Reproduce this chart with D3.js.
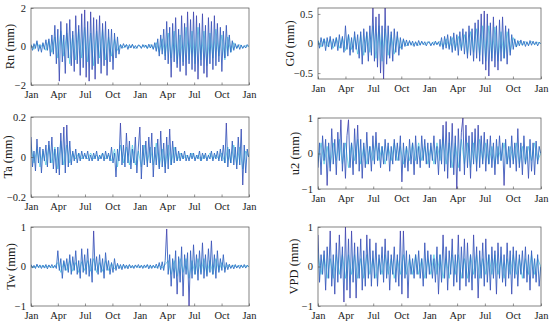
<!DOCTYPE html>
<html>
<head>
<meta charset="utf-8">
<script src="https://cdn.jsdelivr.net/npm/d3@7"></script>
<style>
    body { margin: 0; background: #fff; }
    svg { display: block; }
</style>
</head>
<body>
<div id="chart"></div>
<script>
// Sampling: main series every 5 days, second series every 10 days, over two years
const startDate = new Date(2015, 0, 1);
const endDate = new Date(2017, 0, 1);
const stepDays = 5;
const stepDays2 = 10;

// Main series values (mm)
const rnValues = [
    0.1, -0.2, 0.15, -0.1, 0.3, -0.25, 0.1, -0.3, 0.2, -0.15, 0.35, -0.2, 0.4, -0.5, 0.6, -0.4, 1.1, -0.9,
    0.9, -1.8, 1.3, -0.8, 0.6, -1.4, 1.2, -0.6, 1.4, -1.0, 0.8, -1.3, 1.6, -0.9, 1.1, -1.5, 1.7, -1.1,
    1.9, -1.6, 1.3, -1.8, 1.8, -1.2, 1.5, -1.7, 1.4, -0.9, 1.6, -1.4, 1.2, -1.0, 1.3, -1.5, 0.9, -0.8,
    0.9, -1.2, 0.7, -0.6, 0.5, -0.4,
    0.1, -0.1, 0.15, -0.05, 0.1, -0.15, 0.1, -0.08, 0.12, -0.1, 0.05, -0.1, 0.08,
    0.05, -0.1, 0.1, -0.05, 0.08, -0.1, 0.12, -0.08, 0.1, -0.15, 0.2, -0.25,
    0.4, -0.5, 0.6, -0.4, 0.9, -0.7,
    1.3, -0.9, 1.0, -1.6, 1.2, -0.8, 1.5, -1.1, 0.9, -1.3, 1.6, -1.0, 1.2, -1.5, 1.8, -0.9, 1.4, -1.2,
    1.8, -1.3, 1.6, -1.7, 1.2, -1.0, 1.7, -1.4, 1.1, -1.6, 1.5, -0.9, 1.3, -1.2, 1.6, -1.0, 1.2, -0.8,
    1.0, -1.3, 0.8, -0.6, 1.1, -0.5, 0.6, -0.3, 0.3,
    -0.2, 0.15, -0.1, 0.1, -0.15, 0.08, -0.1, 0.05, -0.08, 0.1, 0.0
];

const g0Values = [
    0.05, -0.08, 0.1, -0.05, 0.08, -0.12, 0.1, -0.06, 0.12, -0.1, 0.08, -0.05, 0.1, -0.12, 0.15, -0.08, 0.12, -0.15,
    0.3, -0.1, 0.15, -0.2, 0.1, -0.15, 0.2, -0.1, 0.15, -0.25, 0.2, -0.35, 0.25, -0.15, 0.2, -0.3, 0.3, -0.2,
    0.6, -0.3, 0.45, -0.4, 0.5, -0.5, 0.3, -0.6, 0.6, -0.35, 0.3, -0.25, 0.2, -0.3, 0.25, -0.15, 0.2, -0.2,
    0.1, -0.1, 0.08, -0.05, 0.06, -0.04, 0.05, -0.03, 0.04, -0.05, 0.03, -0.04, 0.05, -0.03, 0.04, -0.02, 0.03, -0.04, 0.02,
    0.03, -0.04, 0.02, -0.03, 0.04, -0.02, 0.03, -0.05, 0.1, -0.1, 0.12, -0.08, 0.15, -0.1, 0.12, -0.15, 0.18, -0.12,
    0.15, -0.2, 0.2, -0.12, 0.25, -0.18, 0.2, -0.25, 0.3, -0.2, 0.25, -0.3, 0.35, -0.25, 0.4, -0.3, 0.5, -0.35,
    0.55, -0.45, 0.5, -0.55, 0.35, -0.3, 0.45, -0.4, 0.3, -0.45, 0.4, -0.3, 0.45, -0.25, 0.3, -0.35, 0.25, -0.2,
    0.15, -0.1, 0.08, -0.06, 0.05, -0.04, 0.06, -0.03, 0.04, -0.05, 0.03, -0.04, 0.05, -0.03, 0.04, -0.02, 0.03, -0.04, 0.02, 0.0
];

const taValues = [
    0.1, -0.05, 0.03, -0.07, 0.09, -0.03, 0.05, -0.08, 0.04, -0.02, 0.06, -0.05, 0.08, -0.03, 0.1, -0.06, 0.04, -0.08,
    0.05, -0.09, 0.12, -0.04, 0.15, -0.08, 0.16, -0.05, 0.08, -0.04, 0.03, -0.02, 0.04, -0.03, 0.02, -0.02, 0.03, -0.01,
    0.02, -0.01, 0.03, -0.02, 0.01, -0.02, 0.02, -0.01, 0.03, -0.02, 0.01, -0.01, 0.02, -0.02, 0.03, -0.01, 0.02, -0.02,
    0.05, -0.03, 0.02, -0.1, 0.04, -0.02, 0.17, -0.04, 0.06, -0.05, 0.12, -0.03, 0.08, -0.06, 0.04, -0.03, 0.1, -0.08, 0.05,
    0.15, -0.11, 0.06, -0.04, 0.08, -0.05, 0.1, -0.03, 0.12, -0.1, 0.05, -0.04, 0.09, -0.06, 0.13, -0.05, 0.07, -0.08,
    0.1, -0.06, 0.14, -0.04, 0.08, -0.03, 0.05, -0.02, 0.03, -0.02, 0.02, -0.01, 0.03, -0.02, 0.01, -0.02, 0.02, -0.01,
    0.02, -0.02, 0.01, -0.01, 0.03, -0.02, 0.02, -0.01, 0.02, -0.02, 0.01, -0.01, 0.03, -0.02, 0.02, -0.01, 0.03, -0.02,
    0.04, -0.02, 0.06, -0.03, 0.17, -0.05, 0.04, -0.03, 0.08, -0.04, 0.05, -0.06, 0.1, -0.04, 0.14, -0.14, 0.06, -0.08, 0.04, 0.0
];

const u2Values = [
    -0.4, 0.3, -0.6, 0.5, -0.2, 0.4, -0.9, 0.3, -0.5, 0.7, -0.3, 0.4, -0.6, 0.6, -0.2, 0.95, -0.5, 0.3,
    -0.7, 0.5, 0.95, -0.4, 0.3, -0.6, 0.7, -0.3, 0.8, -0.5, 0.4, -0.7, 0.3, -0.4, 0.6, -0.3, 0.2, -0.5,
    0.5, -0.3, 0.6, -0.2, 0.3, -0.4, 0.2, -0.3, 0.4, -0.2, 0.3, -0.5, 0.2, -0.3, 0.4, -0.2, 0.3, -0.2,
    0.5, -0.8, 0.3, -0.4, 0.2, -0.5, 0.4, -0.3, 0.3, -0.6, 0.5, -0.3, 0.2, -0.4, 0.5, -0.2, 0.4, -0.3, 0.3,
    -0.4, 0.3, -0.2, 0.5, -0.3, 0.2, -0.6, 0.4, -0.3, 0.8, -0.5, 0.9, -0.7, 0.6, -0.4, 0.85, -0.6, 0.5,
    -1.0, 0.7, -0.5, 0.6, 1.0, -0.6, 0.8, -0.4, 0.5, -0.7, 0.6, -0.3, 0.7, -0.5, 0.8, -0.4, 0.5, -0.3,
    0.6, -0.5, 0.4, -0.3, 0.5, -0.4, 0.3, -0.6, 0.4, -0.3, 0.5, -0.2, 0.3, -0.9, 0.4, -0.3, 0.2, -0.4,
    0.5, -0.3, 0.3, -0.5, 0.7, -0.4, 0.3, -0.6, 0.5, -0.3, 0.2, -0.7, 0.4, -0.5, 0.3, -0.6, 0.35, -0.3, 0.2, 0.0
];

const twValues = [
    0.05, -0.04, 0.03, -0.05, 0.06, -0.03, 0.04, -0.05, 0.03, -0.04, 0.05, -0.06, 0.04, -0.03, 0.05, -0.04, 0.03, -0.05,
    0.4, -0.1, 0.2, -0.3, 0.15, -0.1, 0.2, -0.15, 0.3, -0.2, 0.25, -0.1, 0.4, -0.2, 0.15, -0.3, 0.45, -0.15,
    0.3, -0.2, 0.45, -0.25, 0.2, -0.4, 0.9, -0.1, 0.25, -0.2, 0.3, -0.15, 0.2, -0.3, 0.35, -0.1, 0.15, -0.2,
    0.1, -0.15, 0.2, -0.1, 0.08, -0.06, 0.05, -0.08, 0.06, -0.05, 0.04, -0.06, 0.05, -0.04, 0.03, -0.05, 0.04, -0.03, 0.05,
    -0.04, 0.03, -0.05, 0.04, -0.03, 0.05, -0.06, 0.04, -0.05, 0.03, -0.04, 0.06, -0.05, 0.1, -0.08, 0.12, -0.1, 0.15,
    0.95, -0.2, 0.3, -0.5, 0.2, -0.3, 0.4, -0.7, 0.25, -0.4, 0.5, -0.75, 0.3, -0.2, 0.35, -1.0, 0.4, -0.3,
    0.55, -0.2, 0.3, -0.35, 0.4, -0.2, 0.6, -0.3, 0.3, -0.25, 0.45, -0.15, 0.65, -0.2, 0.3, -0.3, 0.4, -0.15,
    0.2, -0.1, 0.3, -0.15, 0.1, -0.08, 0.06, -0.05, 0.04, -0.06, 0.05, -0.04, 0.03, -0.05, 0.04, -0.03, 0.05, -0.04, 0.03, 0.0
];

const vpdValues = [
    0.8, -0.4, 0.3, -0.2, 0.4, -0.6, 0.5, -0.3, 0.9, -0.5, 0.3, -0.7, 0.6, -0.4, 0.8, -0.3, 0.5, -0.9,
    1.0, -0.6, 0.7, -0.8, 0.9, -0.4, 0.6, -0.8, 0.5, -0.3, 0.7, -0.6, 0.4, -0.5, 0.8, -0.3, 0.7, -0.5,
    0.4, -0.3, 0.6, -0.5, 0.3, -0.2, 0.5, -0.4, 0.7, -0.3, 0.4, -0.6, 0.3, -0.2, 0.5, -0.4, 0.3, -0.5,
    0.9, -0.7, 0.9, -0.3, 0.4, -0.8, 0.3, -0.2, 0.2, -0.3, 0.3, -0.2, 0.4, -0.3, 0.2, -0.5, 0.6, -0.3, 0.4,
    -0.2, 0.3, -0.3, 0.2, -0.4, 0.5, -0.7, 0.3, -0.4, 0.8, -0.3, 0.5, -0.6, 0.4, -0.2, 0.7, -0.5, 0.3,
    -0.4, 0.8, -0.6, 0.5, -0.3, 0.7, -0.5, 0.6, -0.4, 0.3, -0.6, 0.8, -0.3, 0.5, -0.8, 0.4, -0.3, 0.6,
    -0.5, 0.7, -0.4, 0.3, -0.6, 0.5, -0.3, 0.4, -0.7, 0.6, -0.3, 0.5, -0.4, 0.3, -0.5, 0.6, -0.3, 0.4,
    -0.7, 0.5, -0.3, 0.4, -0.5, 0.3, -0.2, 0.4, -0.3, 0.5, -0.4, 0.3, -0.6, 0.4, -0.3, 0.2, -0.4, 0.3, -0.5, 0.0
];

// Second (cyan) series, every 10 days
const rnValues2 = [
    0.1, -0.15, 0.2, -0.1, 0.15, -0.2, 0.3, -0.3, 0.5,
    -0.6, 0.8, -0.5, 0.7, -0.9, 0.6, -0.7, 0.9, -0.6,
    1.0, -0.8, 0.7, -1.0, 0.8, -0.6, 0.9, -0.7, 0.5,
    -0.5, 0.4, -0.2, 0.1, -0.08, 0.1, -0.05, 0.08, -0.1, 0.05,
    -0.05, 0.08, -0.1, 0.1, -0.12, 0.2, -0.3, 0.4, -0.5,
    0.7, -0.6, 0.8, -0.9, 0.6, -0.8, 1.0, -0.7, 0.8,
    -0.9, 1.0, -0.7, 0.8, -1.0, 0.7, -0.6, 0.9, -0.5,
    0.6, -0.7, 0.5, -0.3, 0.2, -0.1, 0.1, -0.08, 0.05, 0.0
];

const g0Values2 = [
    0.05, -0.06, 0.08, -0.05, 0.07, -0.08, 0.1, -0.08, 0.1,
    -0.12, 0.15, -0.1, 0.12, -0.18, 0.15, -0.2, 0.18, -0.15,
    0.3, -0.25, 0.3, -0.3, 0.25, -0.2, 0.15, -0.18, 0.12,
    -0.08, 0.06, -0.04, 0.03, -0.03, 0.02, -0.03, 0.02, -0.02, 0.03,
    -0.02, 0.03, -0.02, 0.04, -0.06, 0.08, -0.07, 0.1, -0.1,
    0.12, -0.1, 0.15, -0.18, 0.2, -0.15, 0.25, -0.2, 0.3,
    -0.3, 0.3, -0.25, 0.28, -0.3, 0.2, -0.25, 0.2, -0.15,
    0.1, -0.06, 0.04, -0.03, 0.03, -0.02, 0.03, -0.02, 0.02, 0.0
];

const taValues2 = [
    0.05, -0.03, 0.04, -0.05, 0.03, -0.04, 0.06, -0.03, 0.05,
    -0.06, 0.08, -0.04, 0.06, -0.03, 0.02, -0.01, 0.02, -0.01,
    0.01, -0.01, 0.02, -0.01, 0.01, -0.01, 0.02, -0.01, 0.01,
    -0.02, 0.04, -0.05, 0.06, -0.03, 0.05, -0.04, 0.06, -0.04, 0.03,
    -0.05, 0.06, -0.03, 0.05, -0.04, 0.07, -0.05, 0.04, -0.05,
    0.06, -0.04, 0.05, -0.02, 0.02, -0.01, 0.01, -0.01, 0.02,
    -0.01, 0.01, -0.02, 0.01, -0.01, 0.02, -0.01, 0.01, -0.01,
    0.02, -0.03, 0.05, -0.03, 0.06, -0.04, 0.05, -0.06, 0.03, 0.0
];

const u2Values2 = [
    -0.2, 0.3, -0.3, 0.2, -0.4, 0.3, -0.2, 0.4, -0.3,
    0.3, -0.4, 0.3, -0.2, 0.4, -0.3, 0.2, -0.3, 0.2,
    -0.2, 0.3, -0.2, 0.2, -0.3, 0.2, -0.2, 0.3, -0.2,
    0.2, -0.3, 0.2, -0.2, 0.3, -0.2, 0.3, -0.2, 0.2, -0.3,
    0.2, -0.3, 0.3, -0.2, 0.4, -0.3, 0.3, -0.4, 0.3,
    -0.4, 0.4, -0.3, 0.3, -0.4, 0.3, -0.3, 0.4, -0.2,
    0.3, -0.3, 0.2, -0.3, 0.2, -0.2, 0.3, -0.3, 0.2,
    -0.2, 0.3, -0.3, 0.2, -0.3, 0.2, -0.2, 0.3, -0.2, 0.0
];

const twValues2 = [
    0.02, -0.03, 0.02, -0.02, 0.03, -0.02, 0.02, -0.03, 0.02,
    0.1, -0.15, 0.12, -0.1, 0.15, -0.12, 0.1, -0.15, 0.12,
    -0.1, 0.15, -0.12, 0.2, -0.15, 0.1, -0.12, 0.15, -0.1,
    0.08, -0.06, 0.04, -0.03, 0.03, -0.02, 0.03, -0.02, 0.02, -0.02,
    0.02, -0.02, 0.03, -0.02, 0.02, -0.03, 0.03, -0.04, 0.05,
    0.15, -0.2, 0.15, -0.25, 0.2, -0.15, 0.2, -0.3, 0.15,
    -0.2, 0.2, -0.15, 0.2, -0.2, 0.15, -0.2, 0.2, -0.1,
    0.1, -0.06, 0.04, -0.03, 0.03, -0.02, 0.03, -0.02, 0.02, 0.0
];

const vpdValues2 = [
    0.3, -0.2, 0.3, -0.3, 0.2, -0.3, 0.3, -0.2, 0.3,
    -0.3, 0.3, -0.2, 0.3, -0.3, 0.2, -0.3, 0.3, -0.2,
    0.2, -0.3, 0.2, -0.2, 0.3, -0.2, 0.2, -0.3, 0.2,
    -0.2, 0.3, -0.2, 0.2, -0.2, 0.3, -0.2, 0.2, -0.3, 0.2,
    -0.2, 0.3, -0.2, 0.3, -0.3, 0.2, -0.3, 0.3, -0.2,
    0.3, -0.3, 0.2, -0.3, 0.3, -0.2, 0.3, -0.3, 0.2,
    -0.2, 0.3, -0.2, 0.3, -0.2, 0.2, -0.3, 0.2, -0.2,
    0.3, -0.2, 0.2, -0.3, 0.2, -0.2, 0.3, -0.2, 0.2, 0.0
];

// Axis labels and y ticks per panel
const panelLabels = ['Rn (mm)', 'Ta (mm)', 'Tw (mm)', 'G0 (mm)', 'u2 (mm)', 'VPD (mm)'];
const panelDomains = [[-2, 2], [-0.2, 0.2], [-1, 1], [-0.6, 0.6], [-1, 1], [-1, 1]];
const panelTicks = [[-2, 0, 2], [-0.2, 0, 0.2], [-1, 0, 1], [-0.5, 0, 0.5], [-1, 0, 1], [-1, 0, 1]];
const panelSeries = [rnValues, taValues, twValues, g0Values, u2Values, vpdValues];
const panelSeries2 = [rnValues2, taValues2, twValues2, g0Values2, u2Values2, vpdValues2];

// Layout of each panel box (pixels) and y-label position
const layout = [
    { x0: 31, x1: 249, y0: 8, y1: 85, labelX: 10 },
    { x0: 31, x1: 249, y0: 117, y1: 197, labelX: 8 },
    { x0: 31, x1: 249, y0: 227, y1: 306, labelX: 11 },
    { x0: 318, x1: 541, y0: 8, y1: 79, labelX: 290 },
    { x0: 318, x1: 541, y0: 118, y1: 189, labelX: 295 },
    { x0: 318, x1: 541, y0: 227, y1: 306, labelX: 294 }
];

const config = {
    width: 550,
    height: 323,
    fontFamily: '"Liberation Serif", "Times New Roman", serif',
    tickFontSize: 10.5,
    labelFontSize: 12.5,
    axisColor: '#4d4d4d',
    tickLength: 2.5,
    lineWidth: 0.9,
    cyan: '#3cc6de'
};

const svg = d3.select('#chart')
    .append('svg')
    .attr('width', config.width)
    .attr('height', config.height);

const defs = svg.append('defs');

const xTicks = d3.timeMonth.every(3).range(startDate, d3.timeDay.offset(endDate, 1));
const monthFormat = d3.timeFormat('%b');

panelSeries.forEach((values, i) => {
    const box = layout[i];
    const values2 = panelSeries2[i];

    const x = d3.scaleTime()
        .domain([startDate, endDate])
        .range([box.x0, box.x1]);

    const y = d3.scaleLinear()
        .domain(panelDomains[i])
        .range([box.y1, box.y0]);

    // Vertical colour blend: blue near zero, indigo at the spikes
    const gradId = `grad${i}`;
    const grad = defs.append('linearGradient')
        .attr('id', gradId)
        .attr('gradientUnits', 'userSpaceOnUse')
        .attr('x1', 0).attr('x2', 0)
        .attr('y1', box.y0).attr('y2', box.y1);
    [[0, '#4d45ae'], [0.3, '#3a5cbe'], [0.5, '#2e72c6'],
     [0.7, '#3a5cbe'], [1, '#4d45ae']].forEach(([o, c]) => {
        grad.append('stop').attr('offset', o).attr('stop-color', c);
    });

    const clipId = `clip${i}`;
    defs.append('clipPath').attr('id', clipId)
        .append('rect')
        .attr('x', box.x0).attr('y', box.y0)
        .attr('width', box.x1 - box.x0).attr('height', box.y1 - box.y0);

    const g = svg.append('g').attr('class', 'panel');
    const plot = g.append('g').attr('clip-path', `url(#${clipId})`);

    // Second series (cyan), drawn underneath
    const line2 = d3.line()
        .x((d, k) => x(d3.timeDay.offset(startDate, k * stepDays2)))
        .y(d => y(d));

    plot.append('path')
        .datum(values2)
        .attr('d', line2)
        .attr('fill', 'none')
        .attr('stroke', config.cyan)
        .attr('stroke-opacity', 0.75)
        .attr('stroke-width', config.lineWidth)
        .attr('stroke-linejoin', 'round');

    // Main series (blue)
    const line = d3.line()
        .x((d, k) => x(d3.timeDay.offset(startDate, k * stepDays)))
        .y(d => y(d));

    plot.append('path')
        .datum(values)
        .attr('d', line)
        .attr('fill', 'none')
        .attr('stroke', `url(#${gradId})`)
        .attr('stroke-width', config.lineWidth)
        .attr('stroke-linejoin', 'round');

    // Axes with inward ticks
    const xAxis = d3.axisBottom(x)
        .tickValues(xTicks)
        .tickFormat(monthFormat)
        .tickSizeInner(-config.tickLength)
        .tickSizeOuter(0)
        .tickPadding(6);

    const yAxis = d3.axisLeft(y)
        .tickValues(panelTicks[i])
        .tickFormat(d3.format('~g'))
        .tickSizeInner(-config.tickLength)
        .tickSizeOuter(0)
        .tickPadding(5);

    const gx = g.append('g')
        .attr('transform', `translate(0, ${box.y1})`)
        .call(xAxis);

    const gy = g.append('g')
        .attr('transform', `translate(${box.x0}, 0)`)
        .call(yAxis);

    gy.selectAll('text').text(d => d < 0 ? '\u2212' + Math.abs(d) : d);

    [gx, gy].forEach(a => {
        a.select('.domain').remove();
        a.selectAll('line').attr('stroke', config.axisColor).attr('stroke-width', 0.6);
        a.selectAll('text')
            .attr('fill', '#1a1a1a')
            .style('font-family', config.fontFamily)
            .style('font-size', `${config.tickFontSize}px`);
    });

    // Box
    g.append('rect')
        .attr('x', box.x0).attr('y', box.y0)
        .attr('width', box.x1 - box.x0).attr('height', box.y1 - box.y0)
        .attr('fill', 'none')
        .attr('stroke', config.axisColor)
        .attr('stroke-width', 0.7);

    // Y label
    g.append('text')
        .attr('transform', `translate(${box.labelX}, ${(box.y0 + box.y1) / 2}) rotate(-90)`)
        .attr('text-anchor', 'middle')
        .attr('dy', '0.35em')
        .style('font-family', config.fontFamily)
        .style('font-size', `${config.labelFontSize}px`)
        .attr('fill', '#1a1a1a')
        .text(panelLabels[i]);
});
</script>
</body>
</html>
